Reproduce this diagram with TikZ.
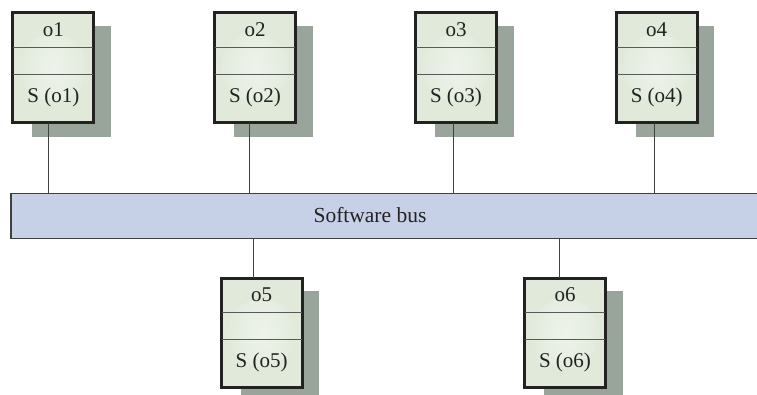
\documentclass[tikz,border=0pt]{standalone}
\usepackage{fontspec}
\setmainfont{Liberation Serif}
\definecolor{boxfill}{HTML}{E0E9DA}
\definecolor{shadowc}{HTML}{99A49A}
\definecolor{busfill}{HTML}{C6D0E7}
\definecolor{inkc}{HTML}{222222}
\tikzset{
  objnode/.style={draw=inkc, line width=2pt, fill=boxfill, rectangle, inner sep=0pt,
    minimum width=80pt, minimum height=108.4pt,
    path picture={\shade[inner color=white!45!boxfill, outer color=boxfill]
      (path picture bounding box.center) circle (34pt);}},
  divider/.style={draw=black!65, line width=0.9pt},
  objtext/.style={text=inkc, font=\fontsize{21}{25}\selectfont, inner sep=0pt},
  busnode/.style={draw=black!75, line width=1.2pt, fill=busfill, rectangle, inner sep=0pt},
  conn/.style={draw=black!75, line width=0.9pt},
}
\newcommand{\objbox}[4]{%
  \fill[shadowc] (#2+20,#3-13.7) rectangle (#2+98.7,#3-124.4);
  \node[objnode, anchor=north west] (#1) at (#2,#3) {};
  \draw[divider] ([yshift=-35pt]#1.north west) -- ([yshift=-35pt]#1.north east);
  \draw[divider] ([yshift=-62pt]#1.north west) -- ([yshift=-62pt]#1.north east);
  \draw[draw=inkc, line width=2pt] (#1.north west) rectangle (#1.south east);
  \node[objtext] (#1n) at ([yshift=-17.5pt]#1.north) {#4};
  \node[objtext] (#1s) at ([yshift=-85pt]#1.north) {S (#4)};
}
\begin{document}
\begin{tikzpicture}[x=1pt, y=1pt]
\useasboundingbox (0,0) rectangle (757,394);
\clip (0,0) rectangle (757,394);
\fill[white] (0,0) rectangle (757,394);
% bus
\node[busnode, anchor=north west, minimum width=760pt, minimum height=44.4pt] (bus) at (10.3,200.7) {};
\node[text=inkc, font=\fontsize{21.5}{25}\selectfont, inner sep=0pt] (buslabel) at (370,179) {Software bus};
% objects
\objbox{o1}{12.3}{381.7}{o1}
\objbox{o2}{214}{381.7}{o2}
\objbox{o3}{415}{381.7}{o3}
\objbox{o4}{615.7}{381.7}{o4}
\objbox{o5}{220.7}{116.5}{o5}
\objbox{o6}{524}{116.5}{o6}
% connectors
\coordinate (c1) at (48,0);
\coordinate (c2) at (249.3,0);
\coordinate (c3) at (453.3,0);
\coordinate (c4) at (654.5,0);
\coordinate (c5) at (253,0);
\coordinate (c6) at (559.3,0);
\draw[conn] (o1.south -| c1) -- (bus.north -| c1);
\draw[conn] (o2.south -| c2) -- (bus.north -| c2);
\draw[conn] (o3.south -| c3) -- (bus.north -| c3);
\draw[conn] (o4.south -| c4) -- (bus.north -| c4);
\draw[conn] (bus.south -| c5) -- (o5.north -| c5);
\draw[conn] (bus.south -| c6) -- (o6.north -| c6);
\end{tikzpicture}
\end{document}
